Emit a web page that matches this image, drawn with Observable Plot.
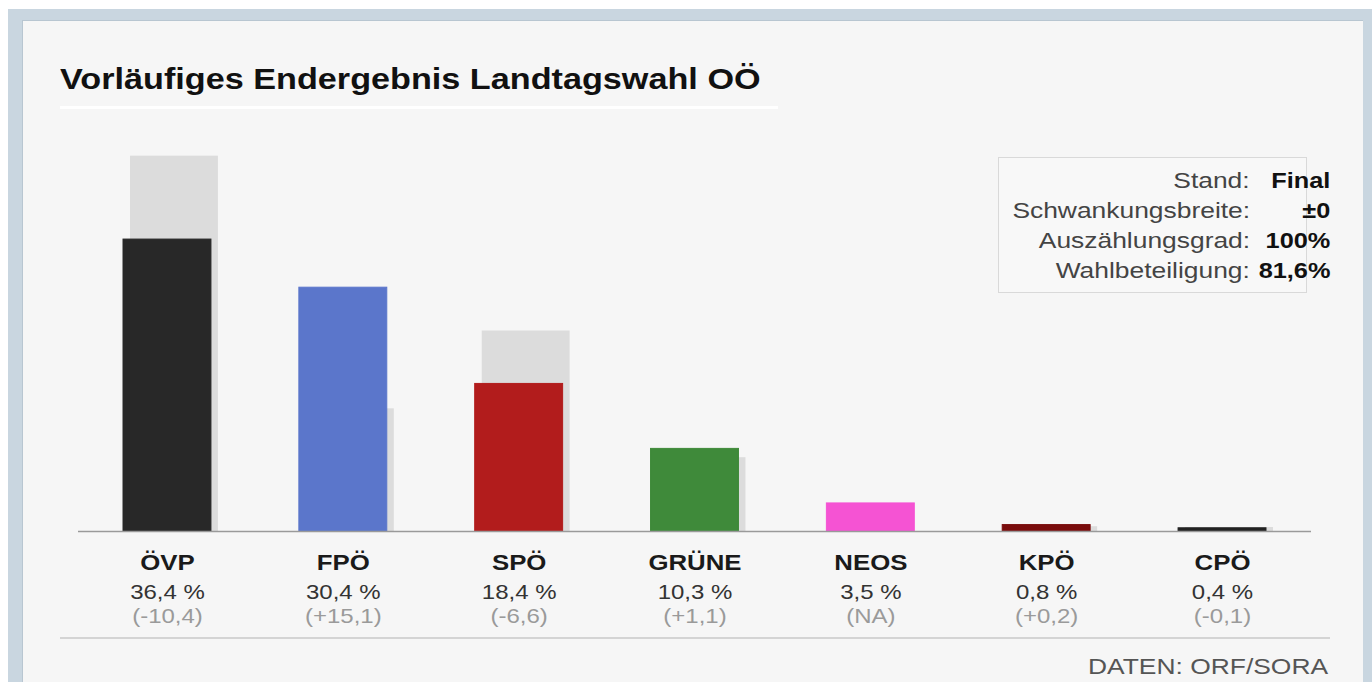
<!DOCTYPE html>
<html>
<head>
<meta charset="utf-8">
<script src="https://cdn.jsdelivr.net/npm/d3@7"></script>
<script src="https://cdn.jsdelivr.net/npm/@observablehq/plot@0.6"></script>
<style>
  html, body { margin: 0; padding: 0; background: #ffffff; width: 1372px; height: 682px; overflow: hidden; }
  body { position: relative; font-family: "Liberation Sans", Arial, sans-serif; }
  #frame { position: absolute; left: 8px; top: 9px; right: 0; bottom: 0; background: #c9d6e0; }
  #panel { position: absolute; left: 22px; top: 20px; width: 1341px; bottom: 0; background: #f6f6f6; box-shadow: inset 1px 1px 0 #b8c6d1; }
  .st { position: absolute; white-space: nowrap; display: inline-block; }
  #title { left: 60px; top: 64px; font-size: 30px; line-height: 30px; font-weight: bold; color: #111; transform: scaleX(1.14); transform-origin: left center; }
  #titleline { position: absolute; left: 60px; top: 106px; width: 718px; height: 3px; background: #ffffff; }
  #legendbox { position: absolute; left: 998px; top: 157px; width: 309px; height: 136px; border: 1px solid #d9d9d9; background: #f8f8f8; box-sizing: border-box; }
  .lg { position: absolute; font-size: 22px; line-height: 30px; white-space: nowrap; }
  .lgl { color: #444; text-align: right; transform: scaleX(1.2); transform-origin: right center; }
  .lgv { color: #111; font-weight: bold; text-align: right; transform: scaleX(1.15); transform-origin: right center; }
  #sep { position: absolute; left: 60px; top: 637px; width: 1270px; height: 2px; background: #d4d4d4; }
  #footer { right: 44px; top: 656px; font-size: 22px; line-height: 22px; color: #555; transform: scaleX(1.2); transform-origin: right center; }
  #chart { position: absolute; left: 0; top: 130px; }
</style>
</head>
<body>
<div id="frame"></div>
<div id="panel"></div>
<div id="title" class="st">Vorläufiges Endergebnis Landtagswahl OÖ</div>
<div id="titleline"></div>
<div id="legendbox"></div>
<div id="legend"></div>
<div id="chart"></div>
<div id="sep"></div>
<div id="footer" class="st">DATEN: ORF/SORA</div>
<script>
// ---- data ----
const parties = ["ÖVP", "FPÖ", "SPÖ", "GRÜNE", "NEOS", "KPÖ", "CPÖ"];
const shares = [36.4, 30.4, 18.4, 10.3, 3.5, 0.8, 0.4];
const previous = [46.8, 15.3, 25.0, 9.2, null, 0.6, 0.5];
const shareLabels = ["36,4 %", "30,4 %", "18,4 %", "10,3 %", "3,5 %", "0,8 %", "0,4 %"];
const changeLabels = ["(-10,4)", "(+15,1)", "(-6,6)", "(+1,1)", "(NA)", "(+0,2)", "(-0,1)"];
const partyColors = ["#282828", "#5b76cb", "#b21c1c", "#3f8a3a", "#f553d3", "#7a0c0c", "#222222"];

const legendLabels = ["Stand:", "Schwankungsbreite:", "Auszählungsgrad:", "Wahlbeteiligung:"];
const legendValues = ["Final", "±0", "100%", "81,6%"];

// ---- legend (HTML) ----
const legend = document.getElementById("legend");
legendLabels.forEach((lab, i) => {
  const l = document.createElement("div");
  l.className = "lg lgl";
  l.style.top = (166 + i * 30) + "px";
  l.style.right = (1372 - 1250) + "px";
  l.textContent = lab;
  legend.appendChild(l);
  const v = document.createElement("div");
  v.className = "lg lgv";
  v.style.top = (166 + i * 30) + "px";
  v.style.right = (1372 - 1330) + "px";
  v.textContent = legendValues[i];
  legend.appendChild(v);
});

// ---- chart table ----
const rows = parties.map((p, i) => ({
  party: p,
  share: shares[i],
  prev: previous[i],
  shareLabel: shareLabels[i],
  change: changeLabels[i],
  color: partyColors[i]
}));

const chart = Plot.plot({
  width: 1372,
  height: 516,
  marginLeft: 78,
  marginRight: 61,
  marginTop: 0,
  marginBottom: 115,
  style: { background: "transparent", fontFamily: "'Liberation Sans', Arial, sans-serif", overflow: "visible" },
  x: { type: "band", domain: parties, paddingInner: 0.5, paddingOuter: 0.256, round: false, axis: null },
  y: { domain: [0, 50], axis: null },
  marks: [
    Plot.barY(rows.filter(d => d.prev != null), { x: "party", y: "prev", fill: "#dcdcdc", dx: 7 }),
    Plot.barY(rows, { x: "party", y: "share", fill: "color", stroke: "color", strokeWidth: 1 }),
    Plot.ruleY([0], { stroke: "#9a9a9a", strokeWidth: 1.5 }),
    Plot.text(rows, { x: "party", text: "party", frameAnchor: "bottom", lineAnchor: "middle", dy: 32, fontSize: 21.5, fontWeight: "bold", fill: "#1a1a1a" }),
    Plot.text(rows, { x: "party", text: "shareLabel", frameAnchor: "bottom", lineAnchor: "middle", dy: 61, fontSize: 20, fill: "#333333" }),
    Plot.text(rows, { x: "party", text: "change", frameAnchor: "bottom", lineAnchor: "middle", dy: 85, fontSize: 20, fill: "#9a9a9a" })
  ]
});

// horizontal stretch of text glyphs to match the reference's wide lettering
chart.querySelectorAll("text").forEach(t => {
  const xs = t.getAttribute("x");
  let pre = "";
  if (xs != null && /^-?[\d.]+$/.test(xs.trim())) {
    pre = ` translate(${parseFloat(xs)},0)`;
    t.removeAttribute("x");
  }
  const tr = t.getAttribute("transform") || "";
  t.setAttribute("transform", `${tr}${pre} scale(1.2,1)`);
});

document.getElementById("chart").appendChild(chart);
</script>
</body>
</html>
